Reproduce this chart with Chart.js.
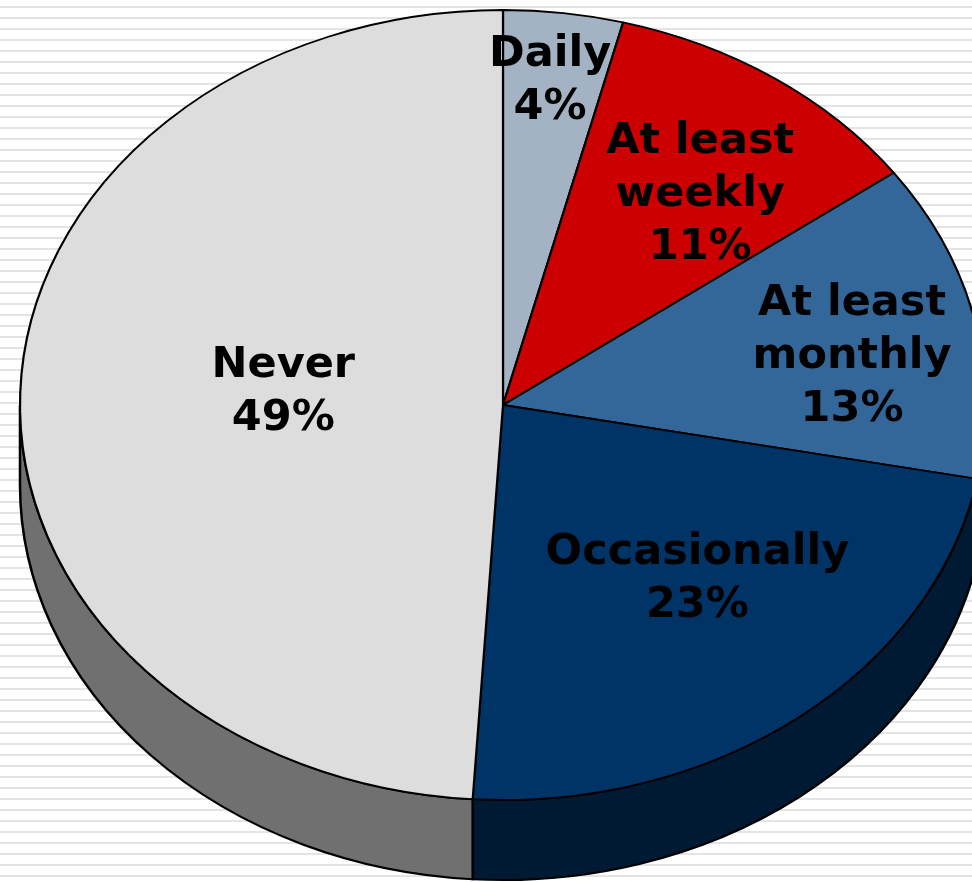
<!DOCTYPE html>
<html>
<head>
<meta charset="utf-8">
<script src="https://cdn.jsdelivr.net/npm/chart.js@4.4.4/dist/chart.umd.min.js"></script>
<style>
  html, body { margin: 0; padding: 0; background: #fff; }
  canvas { display: block; }
</style>
</head>
<body>
<canvas id="pie" width="972" height="882"></canvas>
<script>
// data
const categories = [['Daily'], ['At least', 'weekly'], ['At least', 'monthly'], ['Occasionally'], ['Never']];
const shares = [4, 11, 13, 23, 49];

// looks
const topColors = ['#A3B3C4', '#CC0000', '#336699', '#003366', '#DDDDDD'];
const sideColors = ['#6F7D8B', '#800000', '#1F3F60', '#001A33', '#707070'];

// ellipse on screen: centre, radii, thickness of the rim
const PIE = { cx: 503, cy: 405, rx: 483, ry: 395, depth: 80 };
// where each label sits: fraction of radius and angle nudge in degrees
const labelSpots = [
    { r: 0.836, da: -0.5 },
    { r: 0.68, da: 2.7 },
    { r: 0.735, da: 2.1 },
    { r: 0.589, da: -5.3 },
    { r: 0.457, da: 3.7 }
];

const pie3d = {
    id: 'pie3d',
    beforeDraw(chart) {
        const ctx = chart.ctx;
        ctx.save();
        ctx.fillStyle = '#ffffff';
        ctx.fillRect(0, 0, chart.width, chart.height);
        ctx.fillStyle = '#E4E4E4';
        for (let y = 6; y < chart.height; y += 11) {
            ctx.fillRect(0, y, chart.width, 2);
        }
        ctx.restore();
    },
    beforeDatasetsDraw(chart) {
        const ctx = chart.ctx;
        const arcs = chart.getDatasetMeta(0).data;
        const { x, y, outerRadius: R } = arcs[0];
        ctx.save();
        ctx.translate(PIE.cx, PIE.cy);
        ctx.scale(PIE.rx / R, PIE.ry / R);
        ctx.translate(-x, -y);

        // the rim, only the front half shows
        const d = PIE.depth * R / PIE.ry;
        arcs.forEach((arc, i) => {
            const a = Math.max(arc.startAngle, 0);
            const b = Math.min(arc.endAngle, Math.PI);
            if (b <= a) return;
            ctx.beginPath();
            ctx.arc(x, y, R, a, b);
            ctx.arc(x, y + d, R, b, a, true);
            ctx.closePath();
            ctx.fillStyle = sideColors[i];
            ctx.fill();
            ctx.lineWidth = 2.3;
            ctx.strokeStyle = '#000';
            ctx.stroke();
        });
    },
    afterDatasetsDraw(chart) {
        const ctx = chart.ctx;
        ctx.restore();

        const arcs = chart.getDatasetMeta(0).data;
        ctx.save();
        ctx.font = 'bold 43px "DejaVu Sans"';
        ctx.fillStyle = '#000';
        ctx.textAlign = 'center';
        ctx.textBaseline = 'alphabetic';
        const lineH = 53;
        const capHalf = 0.729 * 43 / 2;
        arcs.forEach((arc, i) => {
            const spot = labelSpots[i];
            const mid = (arc.startAngle + arc.endAngle) / 2 + spot.da * Math.PI / 180;
            const px = PIE.cx + Math.cos(mid) * spot.r * PIE.rx;
            const py = PIE.cy + Math.sin(mid) * spot.r * PIE.ry;
            const lines = [...chart.data.labels[i], shares[i] + '%'];
            lines.forEach((t, k) => {
                const ly = py + (k - (lines.length - 1) / 2) * lineH + capHalf;
                ctx.fillText(t, px, ly);
            });
        });
        ctx.restore();
    }
};

new Chart(document.getElementById('pie'), {
    type: 'pie',
    data: {
        labels: categories,
        datasets: [{
            data: shares,
            backgroundColor: topColors,
            borderColor: '#000',
            borderWidth: 2,
            clip: false
        }]
    },
    options: {
        responsive: false,
        animation: false,
        events: [],
        plugins: {
            legend: { display: false },
            tooltip: { enabled: false }
        }
    },
    plugins: [pie3d]
});
</script>
</body>
</html>
